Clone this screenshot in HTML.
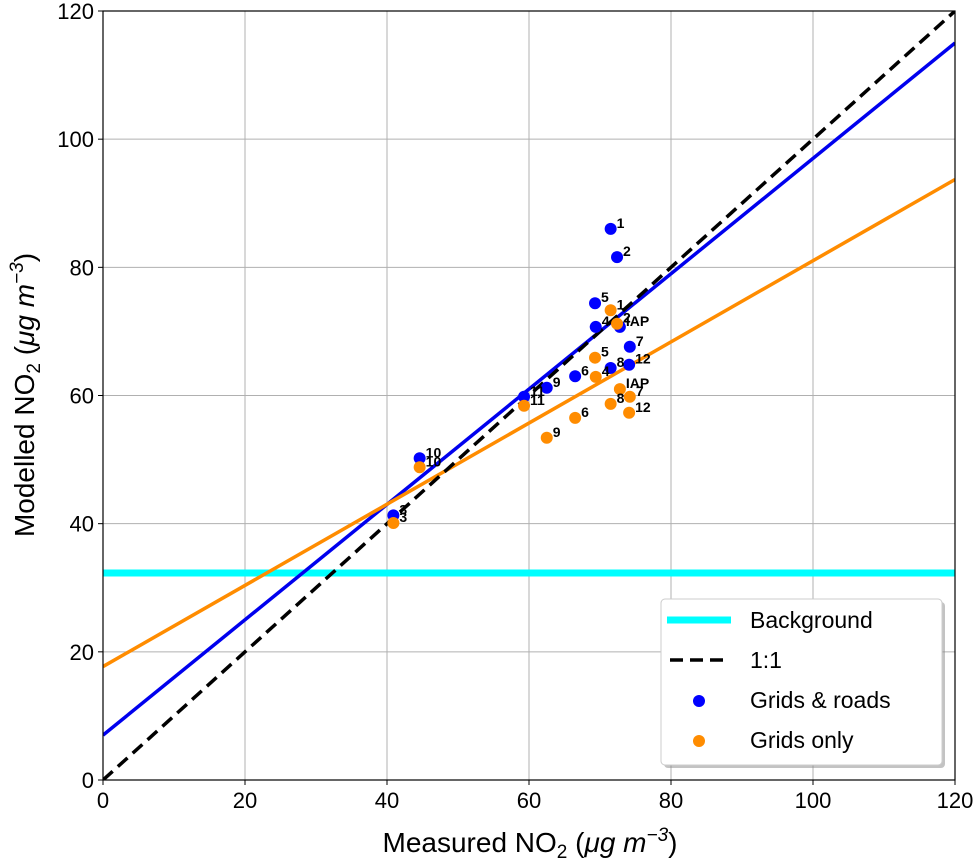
<!DOCTYPE html>
<html><head><meta charset="utf-8"><style>
body{margin:0;background:#fff;}
svg{display:block;font-family:"Liberation Sans",sans-serif;}
</style></head><body>
<svg id="chart" width="978" height="860" viewBox="0 0 978 860" xmlns="http://www.w3.org/2000/svg"></svg>
<script>
const xTicks=[0,20,40,60,80,100,120];
const yTicks=[0,20,40,60,80,100,120];
const siteLabels=["1","2","5","4","IAP","7","12","8","6","9","11","10","3"];
const measured=[71.5,72.4,69.3,69.4,72.8,74.2,74.1,71.5,66.5,62.5,59.3,44.6,40.9];
const gridsRoads=[86.0,81.6,74.4,70.7,70.7,67.6,64.8,64.3,63.0,61.2,59.8,50.2,41.3];
const gridsOnly=[73.3,71.2,65.9,62.9,61.0,59.8,57.3,58.7,56.5,53.4,58.4,48.8,40.1];
const background=[32.3];
const fitRoads=[7.0,115.0];
const fitOnly=[17.7,93.7];
const L=103,R=955,T=11,B=780;
const sx=v=>L+(v-0)/120*(R-L);
const sy=v=>B-(v-0)/120*(B-T);
const svg=document.getElementById('chart');
const NS='http://www.w3.org/2000/svg';
function mk(tag,attrs,parent){const e=document.createElementNS(NS,tag);for(const k in attrs)e.setAttribute(k,attrs[k]);(parent||svg).appendChild(e);return e;}
const grid=mk('g',{});


xTicks.forEach(t=>{mk('line',{x1:sx(t),x2:sx(t),y1:T,y2:B,stroke:'#b0b0b0','stroke-width':1},grid);});
yTicks.forEach(t=>{mk('line',{x1:L,x2:R,y1:sy(t),y2:sy(t),stroke:'#b0b0b0','stroke-width':1},grid);});
const defs=mk('defs',{});const cp=mk('clipPath',{id:'pc'},defs);mk('rect',{x:L,y:T,width:R-L,height:B-T},cp);
const plot=mk('g',{'clip-path':'url(#pc)'});
const bg=mk('line',{x1:L,x2:R,y1:sy(background[0]),y2:sy(background[0]),stroke:'#00ffff','stroke-width':7},plot);


const fr=mk('line',{x1:sx(0),y1:sy(fitRoads[0]),x2:sx(120),y2:sy(fitRoads[1]),stroke:'#0000ee','stroke-width':3.5},plot);


const fo=mk('line',{x1:sx(0),y1:sy(fitOnly[0]),x2:sx(120),y2:sy(fitOnly[1]),stroke:'#ff8c00','stroke-width':3.5},plot);


const one=mk('line',{x1:sx(0),y1:sy(0),x2:sx(120),y2:sy(120),stroke:'#000','stroke-width':3.5,'stroke-dasharray':'13,7'},plot);


function series(vals,color,name){
  vals.forEach((v,i)=>{
    const c=mk('circle',{cx:sx(measured[i]),cy:sy(v),r:6,fill:color},plot);
    
    
    const t=mk('text',{x:sx(measured[i])+6,y:sy(v)-1,'font-size':14,'font-weight':'bold',fill:'#000'},plot);
    t.textContent=siteLabels[i];
    
    
  });
}
series(gridsRoads,'#0000ff','grids-roads');
series(gridsOnly,'#ff8c00','grids-only');
const fr2=mk('rect',{x:L,y:T,width:R-L,height:B-T,fill:'none',stroke:'#000','stroke-width':1.2});


xTicks.forEach(t=>{mk('line',{x1:sx(t),x2:sx(t),y1:B,y2:B+5,stroke:'#000'});
 const e=mk('text',{x:sx(t),y:B+28,'text-anchor':'middle','font-size':22});e.textContent=t;
 
 });
yTicks.forEach(t=>{mk('line',{x1:L-5,x2:L,y1:sy(t),y2:sy(t),stroke:'#000'});
 const e=mk('text',{x:L-9,y:sy(t)+8,'text-anchor':'end','font-size':22});e.textContent=t;
 
 });
</script>
<svg style="position:absolute;left:0;top:0" width="978" height="860" xmlns="http://www.w3.org/2000/svg" font-family="Liberation Sans,sans-serif">
 <text x="530" y="852" text-anchor="middle" font-size="28">Measured NO<tspan font-size="19" dy="6">2</tspan><tspan dy="-6"> (</tspan><tspan font-style="italic">μg m</tspan><tspan font-style="italic" font-size="19" dy="-11">−3</tspan><tspan dy="11">)</tspan></text>
 <text transform="translate(34,395) rotate(-90)" text-anchor="middle" font-size="28">Modelled NO<tspan font-size="19" dy="6">2</tspan><tspan dy="-6"> (</tspan><tspan font-style="italic">μg m</tspan><tspan font-style="italic" font-size="19" dy="-11">−3</tspan><tspan dy="11">)</tspan></text>
 <g>
  <rect x="664" y="602" width="281" height="166" rx="4" fill="#888" opacity="0.5"/>
  <rect x="661" y="599" width="281" height="166" rx="4" fill="#fff" stroke="#ccc"/>
  <line x1="667" x2="731" y1="620" y2="620" stroke="#00ffff" stroke-width="7"/>
  <text x="750" y="628" font-size="23">Background</text>
  <line x1="670" x2="728" y1="660" y2="660" stroke="#000" stroke-width="3.5" stroke-dasharray="13,7"/>
  <text x="750" y="668" font-size="23">1:1</text>
  <circle cx="699" cy="701" r="6" fill="#0000ff"/>
  <text x="750" y="708" font-size="23">Grids &amp; roads</text>
  <circle cx="699" cy="741" r="6" fill="#ff8c00"/>
  <text x="750" y="748" font-size="23">Grids only</text>
 </g>
</svg>
</body></html>
